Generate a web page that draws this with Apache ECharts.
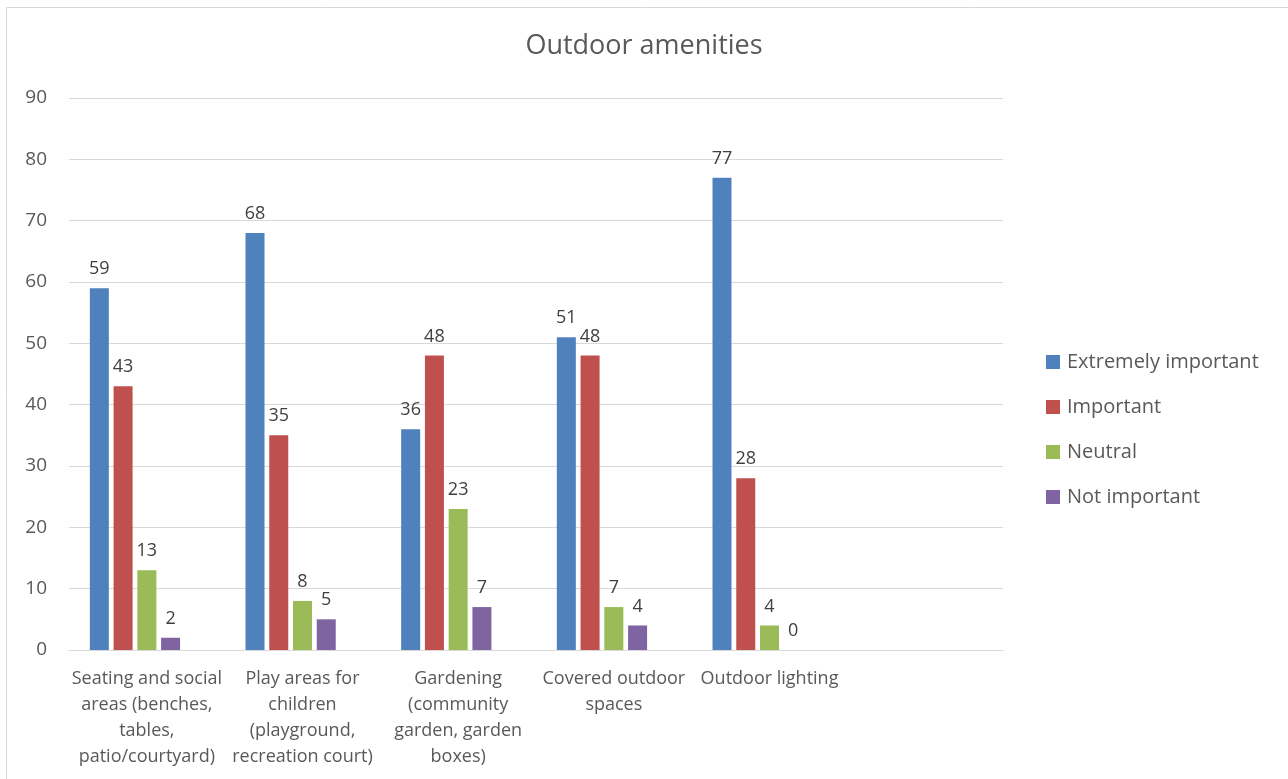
<!DOCTYPE html>
<html><head><meta charset="utf-8">
<script src="https://cdn.jsdelivr.net/npm/echarts@6/dist/echarts.min.js"></script>
<style>html,body{margin:0;padding:0;background:#fff;}#c{width:1288px;height:779px;}</style>
</head><body><div id="c"></div>
<script>
const categories = [
  'Seating and social\nareas (benches,\ntables,\npatio/courtyard)',
  'Play areas for\nchildren\n(playground,\nrecreation court)',
  'Gardening\n(community\ngarden, garden\nboxes)',
  'Covered outdoor\nspaces',
  'Outdoor lighting',
  ''
];
const seriesNames = ['Extremely important', 'Important', 'Neutral', 'Not important'];
const extremelyImportant = [59, 68, 36, 51, 77, null];
const important = [43, 35, 48, 48, 28, null];
const neutral = [13, 8, 23, 7, 4, null];
const notImportant = [2, 5, 7, 4, 0, null];
const yTicks = { min: 0, max: 90, interval: 10 };
const colors = ['#4f81bd', '#c0504d', '#9bbb59', '#8064a2'];
const values = [extremelyImportant, important, neutral, notImportant];

const font = 'Open Sans';
const chart = echarts.init(document.getElementById('c'), null, { renderer: 'canvas' });
const series = seriesNames.map((n, i) => ({
  name: n, type: 'bar', data: values[i], barWidth: 19, barGap: '25%',
  itemStyle: { color: colors[i] },
  label: { show: true, position: 'top', distance: 10, color: '#404040', fontSize: 18, fontFamily: font }
}));
series.push({ name: 'blank', type: 'bar', data: categories.map(() => null), barWidth: 19 });
chart.setOption({
  animation: false,
  backgroundColor: '#fff',
  graphic: [{ type: 'rect', left: 4, top: 5, shape: { width: 1300, height: 800 }, style: { fill: 'none', stroke: '#d9d9d9', lineWidth: 1 }, z: 100 }],
  title: { text: 'Outdoor amenities', left: 'center', top: 28, textStyle: { fontFamily: font, fontSize: 27, fontWeight: 'normal', color: '#595959' } },
  legend: {
    orient: 'vertical', left: 1046, top: 351, padding: 0, itemWidth: 14, itemHeight: 14, itemGap: 23,
    data: seriesNames, icon: 'rect',
    textStyle: { fontFamily: font, fontSize: 20, color: '#595959', lineHeight: 22, padding: [0, 0, 0, 2] }
  },
  grid: { left: 69, right: 285, top: 98, bottom: 129, containLabel: false },
  xAxis: {
    type: 'category', data: categories,
    axisLine: { lineStyle: { color: '#d9d9d9', width: 1 } }, axisTick: { show: false },
    axisLabel: { interval: 0, margin: 16, color: '#595959', fontFamily: font, fontSize: 18, lineHeight: 26, align: 'center' }
  },
  yAxis: {
    type: 'value', min: yTicks.min, max: yTicks.max, interval: yTicks.interval,
    axisLine: { show: false }, axisTick: { show: false },
    splitLine: { lineStyle: { color: '#d9d9d9', width: 1 } },
    axisLabel: { margin: 22, color: '#595959', fontFamily: font, fontSize: 19 }
  },
  series: series
});
</script></body></html>
